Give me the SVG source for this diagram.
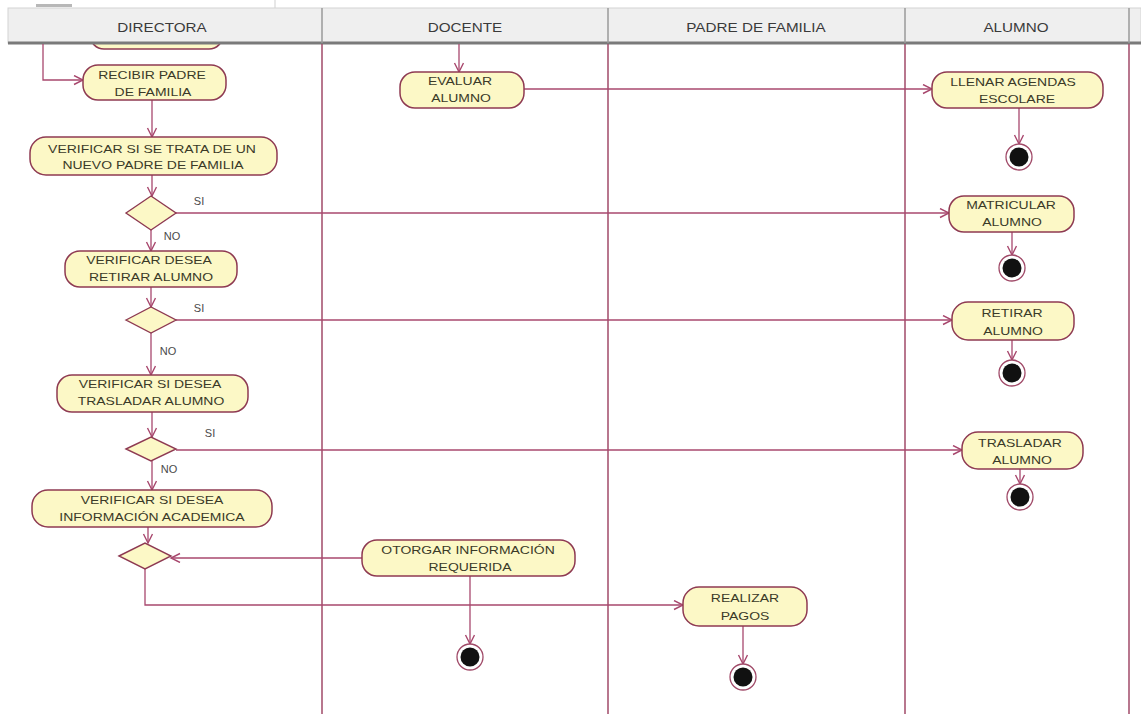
<svg xmlns="http://www.w3.org/2000/svg" width="1141" height="714" viewBox="0 0 1141 714">
  <defs>
    <marker id="arrow" markerWidth="12" markerHeight="12" refX="10" refY="5" orient="auto" markerUnits="userSpaceOnUse">
      <path d="M1,0.5 L10,5 L1,9.5" fill="none" stroke="#a8486e" stroke-width="1.4"/>
    </marker>
  </defs>
  <style>
    .act { fill: #fcf8c6; stroke: #8e3a52; stroke-width: 1.5; }
    .dec { fill: #fcf8c6; stroke: #8e3a52; stroke-width: 1.4; }
    .lbl { font-family: "Liberation Sans", Arial, sans-serif; font-size: 11px; fill: #3a3a28; text-anchor: middle; }
    .hdr { font-family: "Liberation Sans", Arial, sans-serif; font-size: 12px; fill: #3a3a3a; text-anchor: middle; }
    .guard { font-family: "Liberation Sans", Arial, sans-serif; font-size: 11px; fill: #4a4a4a; text-anchor: middle; }
    .flow { fill: none; stroke: #a8486e; stroke-width: 1.3; marker-end: url(#arrow); }
    .lane { stroke: #a04a68; stroke-width: 1.5; }
    .ring { fill: #ffffff; stroke: #a04a68; stroke-width: 1.3; }
    .dot { fill: #111111; }
  </style>

  <rect width="1141" height="714" fill="#ffffff"/>

  <!-- activity partly hidden under the header -->
  <rect class="act" x="90" y="14" width="133" height="35" rx="14"/>

  <!-- swimlane header -->
  <g id="header">
    <rect x="36" y="4" width="36" height="3" fill="#b8b8b8"/>
    <line x1="275" y1="0" x2="275" y2="12" stroke="#cfcfcf" stroke-width="1"/>
    <rect x="8" y="8" width="1133" height="35" fill="#efefef" stroke="#d4d4d4" stroke-width="1"/>
    <line x1="8" y1="43" x2="1141" y2="43" stroke="#7a7a7a" stroke-width="3"/>
    <g stroke="#9a9a9a" stroke-width="1.5">
      <line x1="322" y1="8" x2="322" y2="43"/>
      <line x1="608" y1="8" x2="608" y2="43"/>
      <line x1="905" y1="8" x2="905" y2="43"/>
      <line x1="1129" y1="8" x2="1129" y2="43"/>
    </g>
    <text class="hdr" transform="translate(162,32) scale(1.27 1)">DIRECTORA</text>
    <text class="hdr" transform="translate(465,32) scale(1.27 1)">DOCENTE</text>
    <text class="hdr" transform="translate(756,32) scale(1.27 1)">PADRE DE FAMILIA</text>
    <text class="hdr" transform="translate(1016,32) scale(1.27 1)">ALUMNO</text>
  </g>

  <!-- lane separators -->
  <g id="lanes">
    <line class="lane" x1="322" y1="44" x2="322" y2="714"/>
    <line class="lane" x1="608" y1="44" x2="608" y2="714"/>
    <line class="lane" x1="905" y1="44" x2="905" y2="714"/>
    <line class="lane" x1="1129" y1="44" x2="1129" y2="714"/>
  </g>

  <!-- control flows -->
  <g id="connectors">
    <path class="flow" d="M43,44 V80 H83"/>
    <path class="flow" d="M152,100 V137"/>
    <path class="flow" d="M152,175 V196"/>
    <path class="flow" d="M176,213 H949"/>
    <path class="flow" d="M151,230 V251"/>
    <path class="flow" d="M151,287 V307"/>
    <path class="flow" d="M176,320 H952"/>
    <path class="flow" d="M151,333 V375"/>
    <path class="flow" d="M152,412 V437"/>
    <path class="flow" d="M176,450 H962"/>
    <path class="flow" d="M152,461 V490"/>
    <path class="flow" d="M148,527 V543"/>
    <path class="flow" d="M362,558 H171"/>
    <path class="flow" d="M145,569 V605 H683"/>
    <path class="flow" d="M459,44 V72"/>
    <path class="flow" d="M524,89 H932"/>
    <path class="flow" d="M1019,108 V144"/>
    <path class="flow" d="M1012,232 V255"/>
    <path class="flow" d="M1012,340 V360"/>
    <path class="flow" d="M1020,469 V484"/>
    <path class="flow" d="M470,576 V644"/>
    <path class="flow" d="M743,626 V664"/>
  </g>

  <!-- guard labels -->
  <g id="guards">
    <text class="guard" x="199" y="205">SI</text>
    <text class="guard" x="172" y="240">NO</text>
    <text class="guard" x="199" y="312">SI</text>
    <text class="guard" x="168" y="355">NO</text>
    <text class="guard" x="210" y="437">SI</text>
    <text class="guard" x="169" y="473">NO</text>
  </g>

  <!-- DIRECTORA lane -->
  <g id="recibir-padre">
    <rect class="act" x="83" y="65" width="143" height="35" rx="15"/>
    <text class="lbl" transform="translate(152,79) scale(1.27 1)">RECIBIR PADRE</text>
    <text class="lbl" transform="translate(153,96) scale(1.27 1)">DE FAMILIA</text>
  </g>
  <g id="verificar-nuevo">
    <rect class="act" x="30" y="137" width="247" height="38" rx="16"/>
    <text class="lbl" transform="translate(152,153) scale(1.27 1)">VERIFICAR SI SE TRATA DE UN</text>
    <text class="lbl" transform="translate(153,169) scale(1.27 1)">NUEVO PADRE DE FAMILIA</text>
  </g>
  <g id="decision-nuevo">
    <polygon class="dec" points="126,213 151,196 176,213 151,230"/>
  </g>
  <g id="verificar-retirar">
    <rect class="act" x="65" y="251" width="172" height="36" rx="15"/>
    <text class="lbl" transform="translate(149,264) scale(1.27 1)">VERIFICAR DESEA</text>
    <text class="lbl" transform="translate(151,281) scale(1.27 1)">RETIRAR ALUMNO</text>
  </g>
  <g id="decision-retirar">
    <polygon class="dec" points="126,320 151,307 176,320 151,333"/>
  </g>
  <g id="verificar-trasladar">
    <rect class="act" x="57" y="375" width="191" height="37" rx="15"/>
    <text class="lbl" transform="translate(150,388) scale(1.27 1)">VERIFICAR SI DESEA</text>
    <text class="lbl" transform="translate(151,405) scale(1.27 1)">TRASLADAR ALUMNO</text>
  </g>
  <g id="decision-trasladar">
    <polygon class="dec" points="126,449 151,437 176,449 151,461"/>
  </g>
  <g id="verificar-informacion">
    <rect class="act" x="32" y="490" width="240" height="37" rx="16"/>
    <text class="lbl" transform="translate(152,504) scale(1.27 1)">VERIFICAR SI DESEA</text>
    <text class="lbl" transform="translate(152,521) scale(1.27 1)">INFORMACIÓN ACADEMICA</text>
  </g>
  <g id="decision-informacion">
    <polygon class="dec" points="119,556 145,543 171,556 145,569"/>
  </g>

  <!-- DOCENTE lane -->
  <g id="evaluar-alumno">
    <rect class="act" x="400" y="72" width="124" height="36" rx="15"/>
    <text class="lbl" transform="translate(460,85) scale(1.27 1)">EVALUAR</text>
    <text class="lbl" transform="translate(461,102) scale(1.27 1)">ALUMNO</text>
  </g>
  <g id="otorgar-informacion">
    <rect class="act" x="362" y="540" width="213" height="36" rx="15"/>
    <text class="lbl" transform="translate(468,554) scale(1.27 1)">OTORGAR INFORMACIÓN</text>
    <text class="lbl" transform="translate(470,571) scale(1.27 1)">REQUERIDA</text>
  </g>
  <g id="fin-otorgar">
    <circle class="ring" cx="470" cy="657" r="13"/>
    <circle class="dot" cx="470" cy="657" r="9.5"/>
  </g>

  <!-- PADRE DE FAMILIA lane -->
  <g id="realizar-pagos">
    <rect class="act" x="683" y="587" width="124" height="39" rx="16"/>
    <text class="lbl" transform="translate(745,602) scale(1.27 1)">REALIZAR</text>
    <text class="lbl" transform="translate(745,620) scale(1.27 1)">PAGOS</text>
  </g>
  <g id="fin-pagos">
    <circle class="ring" cx="743" cy="677" r="13"/>
    <circle class="dot" cx="743" cy="677" r="9.5"/>
  </g>

  <!-- ALUMNO lane -->
  <g id="llenar-agendas">
    <rect class="act" x="932" y="72" width="171" height="36" rx="15"/>
    <text class="lbl" transform="translate(1013,86) scale(1.27 1)">LLENAR AGENDAS</text>
    <text class="lbl" transform="translate(1017,103) scale(1.27 1)">ESCOLARE</text>
  </g>
  <g id="fin-agendas">
    <circle class="ring" cx="1019" cy="157" r="13"/>
    <circle class="dot" cx="1019" cy="157" r="9.5"/>
  </g>
  <g id="matricular-alumno">
    <rect class="act" x="949" y="196" width="125" height="36" rx="15"/>
    <text class="lbl" transform="translate(1011,209) scale(1.27 1)">MATRICULAR</text>
    <text class="lbl" transform="translate(1012,226) scale(1.27 1)">ALUMNO</text>
  </g>
  <g id="fin-matricular">
    <circle class="ring" cx="1012" cy="268" r="13"/>
    <circle class="dot" cx="1012" cy="268" r="9.5"/>
  </g>
  <g id="retirar-alumno">
    <rect class="act" x="952" y="302" width="122" height="38" rx="16"/>
    <text class="lbl" transform="translate(1012,317) scale(1.27 1)">RETIRAR</text>
    <text class="lbl" transform="translate(1013,335) scale(1.27 1)">ALUMNO</text>
  </g>
  <g id="fin-retirar">
    <circle class="ring" cx="1012" cy="373" r="13"/>
    <circle class="dot" cx="1012" cy="373" r="9.5"/>
  </g>
  <g id="trasladar-alumno">
    <rect class="act" x="962" y="432" width="121" height="37" rx="16"/>
    <text class="lbl" transform="translate(1020,447) scale(1.27 1)">TRASLADAR</text>
    <text class="lbl" transform="translate(1022,464) scale(1.27 1)">ALUMNO</text>
  </g>
  <g id="fin-trasladar">
    <circle class="ring" cx="1020" cy="497" r="13"/>
    <circle class="dot" cx="1020" cy="497" r="9.5"/>
  </g>
</svg>
